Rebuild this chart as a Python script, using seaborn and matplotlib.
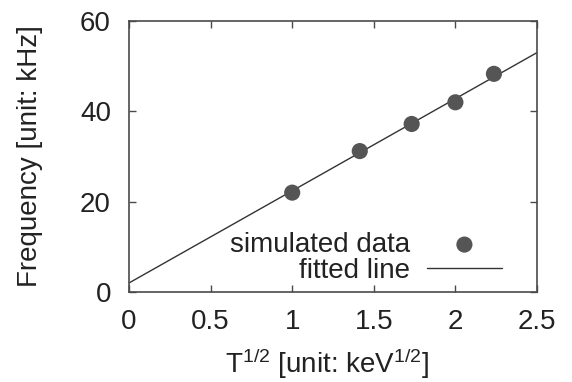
import numpy as np
import matplotlib
matplotlib.use("Agg")
import matplotlib.pyplot as plt
import seaborn as sns

# values
sqrt_T = [1.0, 1.414, 1.732, 2.0, 2.236]
freq_khz = [22.0, 31.2, 37.2, 42.0, 48.3]
fit_x = [0.0, 2.5]
fit_y = [2.0, 53.0]
x_ticks = [0, 0.5, 1, 1.5, 2, 2.5]
x_tick_labels = ["0", "0.5", "1", "1.5", "2", "2.5"]
y_ticks = [0, 20, 40, 60]

sns.set_theme(style="ticks")
plt.rcParams["font.family"] = ["Liberation Sans", "DejaVu Sans"]
plt.rcParams["mathtext.default"] = "regular"

FS = 20

fig, ax = plt.subplots(figsize=(5.72, 3.82), dpi=100)
fig.subplots_adjust(left=129/572, right=537/572, top=1-21/382, bottom=1-292/382)

sns.lineplot(x=fit_x, y=fit_y, ax=ax, color="#333333", linewidth=1.0, label="fitted line")
sns.scatterplot(x=sqrt_T, y=freq_khz, ax=ax, color="#555555", s=135, edgecolor="none",
                label="simulated data", zorder=3)

ax.set_xlim(0, 2.5)
ax.set_ylim(0, 60)
ax.set_xticks(x_ticks)
ax.set_xticklabels(x_tick_labels)
ax.set_yticks(y_ticks)

for side in ["top", "right", "left", "bottom"]:
    ax.spines[side].set_visible(True)
    ax.spines[side].set_color("#4a4a4a")
    ax.spines[side].set_linewidth(1.2)
ax.tick_params(direction="in", length=5, width=1.0, color="#4a4a4a",
               top=True, right=True, labelsize=FS, labelcolor="#222222")
ax.tick_params(axis="x", pad=12)
ax.tick_params(axis="y", pad=13)

ax.set_xlabel(r"T$^{1/2}$ [unit: keV$^{1/2}$]", fontsize=FS, color="#222222", va="top")
ax.set_ylabel("Frequency [unit: kHz]", fontsize=FS, color="#222222")
ax.yaxis.set_label_coords(-0.21, 0.5)
ax.xaxis.set_label_coords(0.485, -0.20)

handles, labels = ax.get_legend_handles_labels()
order = [labels.index("simulated data"), labels.index("fitted line")]
ax.legend([handles[i] for i in order], [labels[i] for i in order],
          loc="lower right", bbox_to_anchor=(0.914, 0.03), frameon=False,
          markerfirst=False, fontsize=FS, handlelength=2.7, handletextpad=0.6,
          labelspacing=0.0, borderpad=0, borderaxespad=0, labelcolor="#222222")

fig.savefig("out.png", dpi=100)
